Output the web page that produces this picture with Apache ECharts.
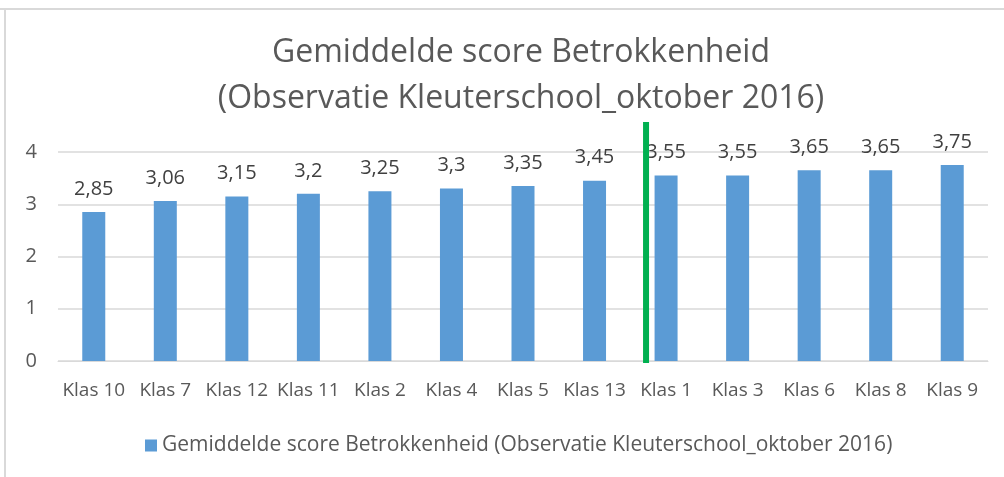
<!DOCTYPE html>
<html>
<head>
<meta charset="utf-8">
<script src="https://cdn.jsdelivr.net/npm/echarts@6/dist/echarts.min.js"></script>
<style>
  html, body { margin: 0; padding: 0; background: #fff; }
  #chart { width: 1004px; height: 477px; }
</style>
</head>
<body>
<div id="chart"></div>
<script>
// categories and scores
const klassen = ['Klas 10', 'Klas 7', 'Klas 12', 'Klas 11', 'Klas 2', 'Klas 4', 'Klas 5', 'Klas 13', 'Klas 1', 'Klas 3', 'Klas 6', 'Klas 8', 'Klas 9']
const scores = [2.85, 3.06, 3.15, 3.2, 3.25, 3.3, 3.35, 3.45, 3.55, 3.55, 3.65, 3.65, 3.75]
const yTicks = [0, 1, 2, 3, 4]
const seriesName = 'Gemiddelde score Betrokkenheid (Observatie Kleuterschool_oktober 2016)'
// position of the green divider, in category index units
const dividerAt = 7.72

const font = '"Open Sans", "Liberation Sans", sans-serif'
const chart = echarts.init(document.getElementById('chart'))

chart.setOption({
  animation: false,
  textStyle: { fontFamily: font },
  title: {
    text: 'Gemiddelde score Betrokkenheid\n(Observatie Kleuterschool_oktober 2016)',
    left: 516,
    top: 25,
    textAlign: 'center',
    textStyle: { fontSize: 32, fontWeight: 'normal', color: '#595959', lineHeight: 46, fontFamily: font }
  },
  grid: { left: 58, right: 16, top: 152, bottom: 116 },
  legend: {
    bottom: 16,
    left: 140,
    itemWidth: 12,
    itemHeight: 12,
    icon: 'rect',
    itemGap: 8,
    textStyle: { fontSize: 21, color: '#595959', fontFamily: font }
  },
  xAxis: [{
    type: 'category',
    data: klassen,
    axisLine: { lineStyle: { color: '#d9d9d9', width: 1 } },
    axisTick: { show: false },
    axisLabel: { color: '#595959', fontSize: 19, margin: 20, interval: 0 }
  }, {
    type: 'value',
    min: -0.5,
    max: klassen.length - 0.5,
    show: false
  }],
  yAxis: {
    type: 'value',
    min: yTicks[0],
    max: yTicks[yTicks.length - 1],
    interval: 1,
    axisLine: { show: false },
    axisTick: { show: false },
    axisLabel: { color: '#595959', fontSize: 20, margin: 21 },
    splitLine: { lineStyle: { color: '#d9d9d9', width: 1.5 } }
  },
  series: [{
    name: seriesName,
    type: 'bar',
    data: scores,
    barWidth: 23,
    itemStyle: { color: '#5b9bd5' },
    label: {
      show: true,
      position: 'top',
      distance: 13,
      fontSize: 20,
      color: '#404040',
      formatter: p => String(p.value).replace('.', ',')
    }
  }]
})

// green divider and frame, placed through the axes
const dx = chart.convertToPixel({ xAxisIndex: 1 }, dividerAt)
const y0 = chart.convertToPixel({ yAxisIndex: 0 }, 0)
chart.setOption({
  graphic: [
    { type: 'line', shape: { x1: 0, y1: 9, x2: 1004, y2: 9 }, style: { stroke: '#d9d9d9', lineWidth: 2 } },
    { type: 'line', shape: { x1: 5, y1: 9, x2: 5, y2: 477 }, style: { stroke: '#d9d9d9', lineWidth: 2 } },
    { type: 'line', z: 10, shape: { x1: dx, y1: 122, x2: dx, y2: y0 + 2 }, style: { stroke: '#00b050', lineWidth: 6 } }
  ]
})
</script>
</body>
</html>
